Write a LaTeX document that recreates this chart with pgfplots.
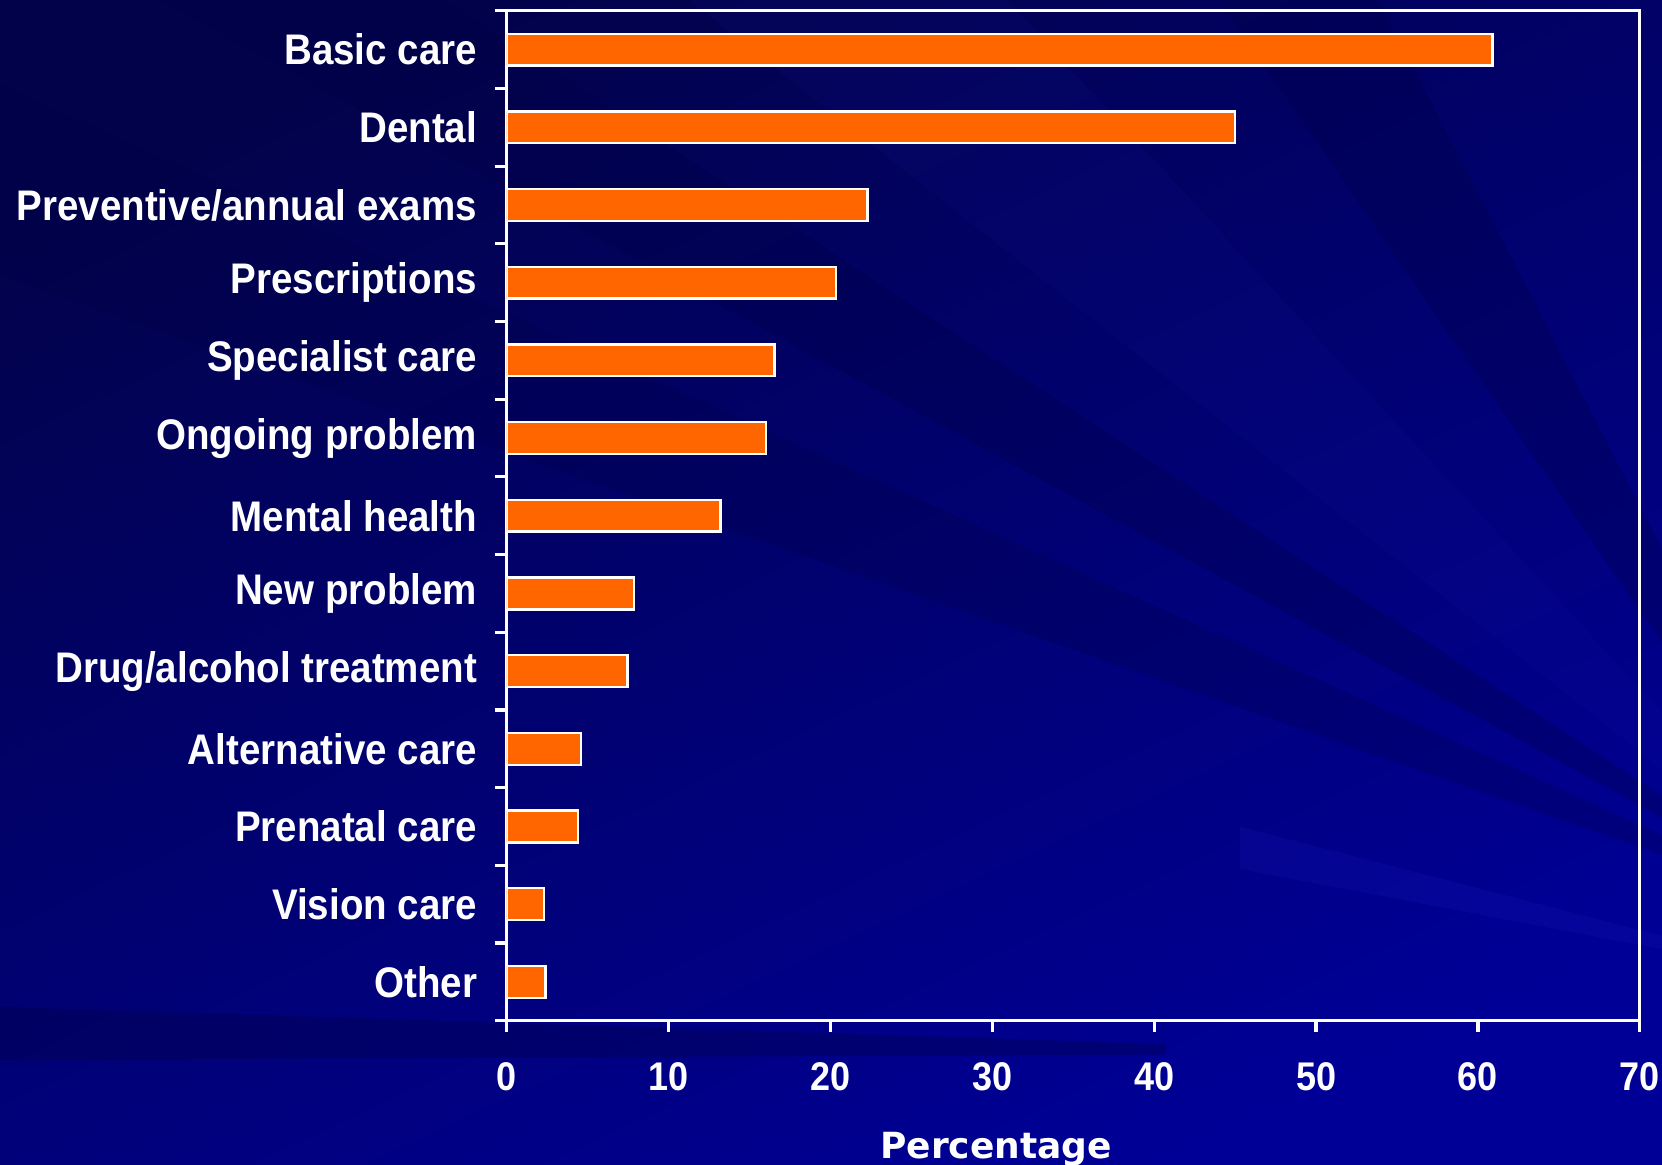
\documentclass[border=0pt]{standalone}
\usepackage{pgfplots}
\pgfplotsset{compat=1.18}
\usepackage{fontspec}
\setmainfont{Liberation Sans}[FakeStretch=0.9]
\newfontfamily\xlabfont{DejaVu Sans}
\definecolor{barorange}{RGB}{255,102,0}
\definecolor{bgdark}{RGB}{2,2,75}
\definecolor{bglight}{RGB}{0,0,150}
\definecolor{raydark}{RGB}{0,0,70}
\definecolor{raylight}{RGB}{40,40,200}
\begin{document}
\begin{tikzpicture}
\useasboundingbox (-126.7pt,-36.0pt) rectangle (288.85pt,255.2pt);
\clip (-126.7pt,-36.0pt) rectangle (288.85pt,255.2pt);
\shade[top color=bgdark, bottom color=bglight, shading angle=25] (-126.7pt,-36.0pt) rectangle (288.85pt,255.2pt);
\begin{scope}[x=0.265pt,y=-0.265pt,shift={(-478,-963)}]
  % rays converging to the right
  \fill[raydark, opacity=0.3] (1750,870) -- (150,0) -- (420,0) -- cycle;
  \fill[raylight, opacity=0.06] (1750,870) -- (650,0) -- (950,0) -- cycle;
  \fill[raydark, opacity=0.3] (1750,870) -- (1150,0) -- (1300,0) -- cycle;
  \fill[raydark, opacity=0.25] (1750,870) -- (0,80) -- (0,260) -- cycle;
  \fill[raylight, opacity=0.15] (1750,930) -- (1170,780) -- (1170,820) -- cycle;
  % dark band at bottom left
  \fill[raydark, opacity=0.35] (0,950) -- (1100,985) -- (1100,995) -- (0,1000) -- cycle;
\end{scope}
\begin{axis}[
  at={(0,0)}, anchor=south west, scale only axis,
  width=283.3pt, height=252.5pt,
  xbar, bar width=0.41,
  xmin=0, xmax=70, ymin=-0.5, ymax=12.5, y dir=reverse,
  xtick={0,10,...,70},
  ytick={0,...,12},
  yticklabels={Basic care, Dental, Preventive/annual exams, Prescriptions, Specialist care, Ongoing problem, Mental health, New problem, Drug/alcohol treatment, Alternative care, Prenatal care, Vision care, Other},
  minor ytick={-0.5,0.5,...,12.5},
  major y tick style={draw=none},
  tick align=outside,
  xtick pos=left, ytick pos=left,
  axis line style={white, line width=0.8pt},
  every tick/.style={white, line width=0.8pt},
  major tick length=2.8pt, minor tick length=2.9pt,
  yticklabel style={font=\fontsize{10.7}{12}\selectfont\bfseries, text=white, xshift=-1.1pt},
  xticklabel style={font=\fontsize{10}{12}\selectfont\bfseries, text=white, yshift=-4.1pt},
  /pgf/number format/assume math mode=true,
  xlabel={Percentage},
  xlabel style={font=\xlabfont\bfseries\fontsize{9}{11}\selectfont, text=white, at={(axis description cs:0.432,0)}, anchor=base, yshift=-34.5pt},
]
\addplot[fill=barorange, draw=white, line width=0.6pt] coordinates {
  (60.9,0) (45.0,1) (22.3,2) (20.35,3) (16.55,4) (16.0,5) (13.2,6)
  (7.85,7) (7.45,8) (4.6,9) (4.4,10) (2.3,11) (2.4,12)
};
\end{axis}
\end{tikzpicture}
\end{document}
